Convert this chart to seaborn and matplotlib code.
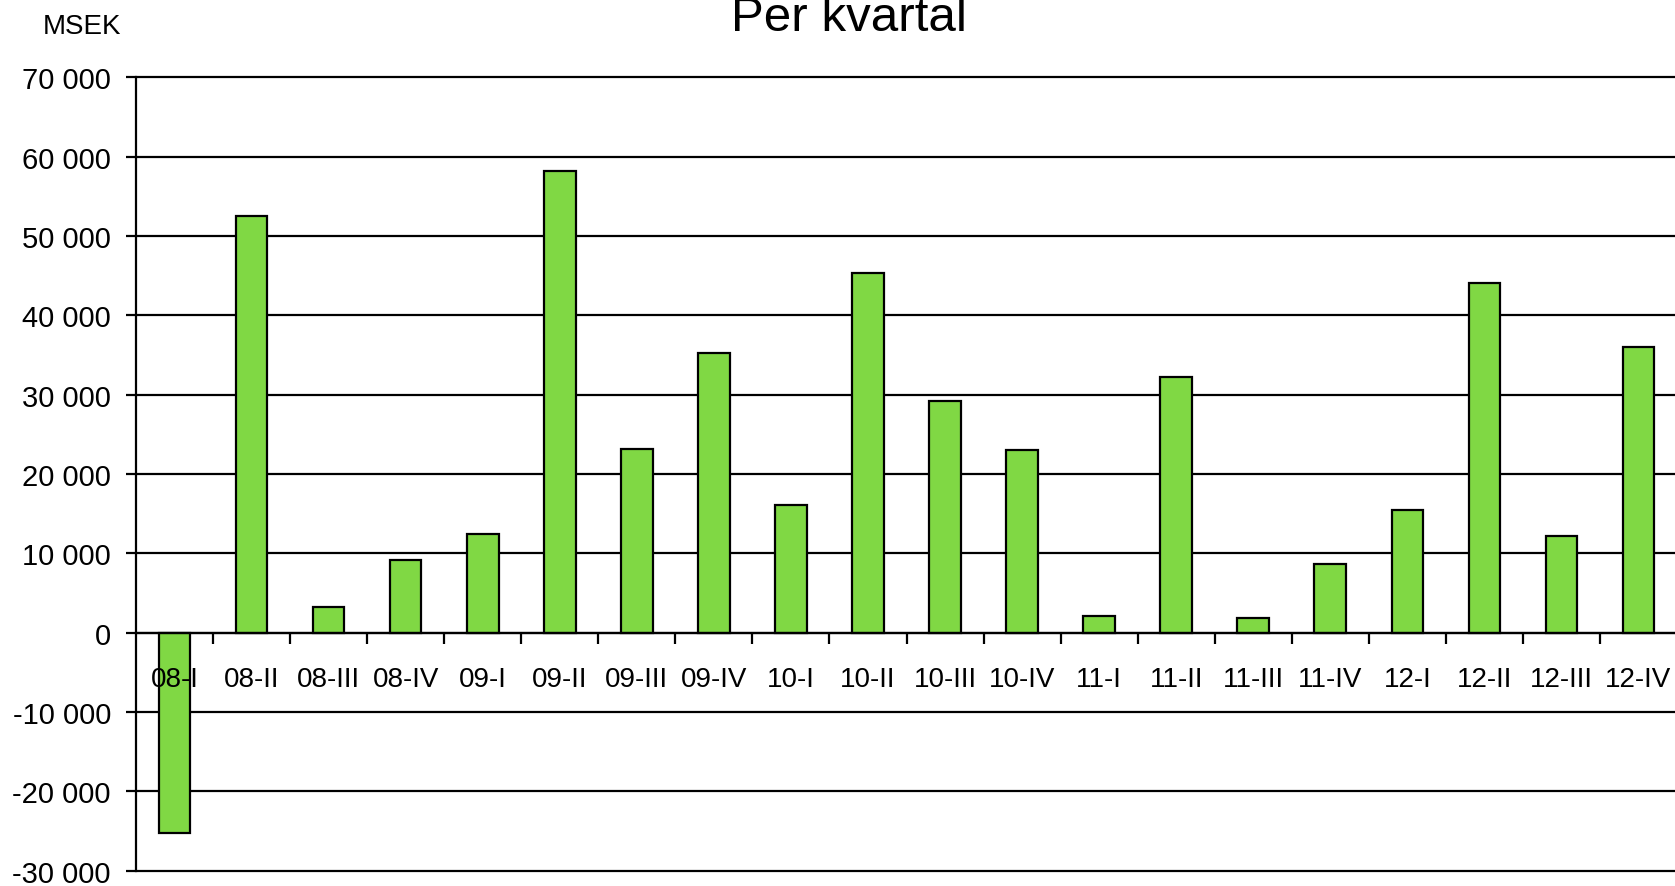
import matplotlib
matplotlib.use("Agg")
import matplotlib.pyplot as plt
from matplotlib import ticker
import pandas as pd
import seaborn as sns

quarters = ["08-I", "08-II", "08-III", "08-IV", "09-I", "09-II", "09-III", "09-IV",
            "10-I", "10-II", "10-III", "10-IV", "11-I", "11-II", "11-III", "11-IV",
            "12-I", "12-II", "12-III", "12-IV"]
msek = [-25300, 52500, 3200, 9200, 12500, 58200, 23200, 35200,
        16100, 45300, 29200, 23000, 2100, 32200, 1800, 8700,
        15500, 44100, 12200, 36000]
y_ticks = [-30000, -20000, -10000, 0, 10000, 20000, 30000, 40000, 50000, 60000, 70000]

df = pd.DataFrame({"Kvartal": quarters, "MSEK": msek})

sns.set_style("white")
font = ["Liberation Sans", "DejaVu Sans"]
plt.rcParams["font.family"] = font
plt.rcParams["text.color"] = "black"
plt.rcParams["xtick.color"] = "black"
plt.rcParams["ytick.color"] = "black"

fig = plt.figure(figsize=(16.75, 8.87), dpi=100)
ax = fig.add_axes([136 / 1675, 1 - 871.6 / 887, 1541 / 1675, (871.6 - 78.5) / 887])

sns.barplot(data=df, x="Kvartal", y="MSEK", ax=ax, color="#80D844", saturation=1,
            width=0.41, edgecolor="black", linewidth=1.6, zorder=2)

ax.set_xlim(-0.5, len(quarters) - 0.5)
ax.set_ylim(-30000, 70000)
ax.set_yticks(y_ticks)
ax.yaxis.set_major_formatter(ticker.FuncFormatter(lambda v, pos: "{:,.0f}".format(v).replace(",", " ")))

# gridlines by hand so the axis (and the 08-I label) stays above the bars
ax.set_axisbelow(False)
ax.grid(False)
for v in y_ticks:
    ax.axhline(v, color="black", linewidth=1.6, clip_on=False, zorder=0.5)

for s in ["right", "top"]:
    ax.spines[s].set_visible(False)
ax.spines["left"].set_color("black")
ax.spines["left"].set_linewidth(1.6)
ax.spines["bottom"].set_position(("data", 0))
ax.spines["bottom"].set_color("black")
ax.spines["bottom"].set_linewidth(1.6)

# category boundaries get the ticks, labels sit under the bar centres
ax.set_xticks([i + 0.5 for i in range(len(quarters) - 1)])
ax.set_xticklabels([])
ax.set_xticks(range(len(quarters)), minor=True)
ax.set_xticklabels(quarters, minor=True)
ax.tick_params(axis="x", which="major", direction="out", length=8, width=1.6, bottom=True)
ax.tick_params(axis="x", which="minor", length=0, pad=24, labelsize=20)
ax.tick_params(axis="y", direction="out", length=7, width=1.6, left=True, pad=11, labelsize=21)

ax.set_xlabel("")
ax.set_ylabel("")

fig.text(82 / 1675, 1 - 27 / 887, "MSEK", ha="center", va="center", fontsize=20)
fig.text(849 / 1675, 1 - 31 / 887, "Per kvartal", ha="center", va="baseline", fontsize=35.5)

fig.savefig("out.png", dpi=100)
